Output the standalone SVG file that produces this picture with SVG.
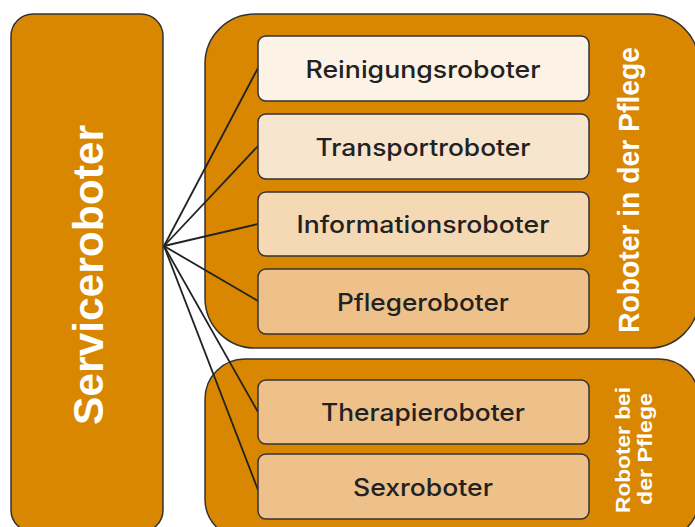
<svg xmlns="http://www.w3.org/2000/svg" width="695" height="527" viewBox="0 0 695 527">
<style>
.grp{fill:#D98700;stroke:#333;stroke-width:1.5}
.box{stroke:#333;stroke-width:1.5}
.lbl{font-family:Inter,"Liberation Sans",Arial,sans-serif;font-weight:500;font-size:24px;fill:#222;text-anchor:middle}
.wt{font-family:"Liberation Sans",Arial,sans-serif;font-weight:bold;fill:#fff;text-anchor:middle}
.conn line{stroke:#222;stroke-width:1.8}
</style>
<rect width="695" height="527" fill="#fff"/>
<g id="servicerobot">
<rect class="grp" x="11" y="14" width="152" height="518" rx="22"/>
<text class="wt" font-size="42" transform="translate(103,275) rotate(-90)" textLength="300" lengthAdjust="spacingAndGlyphs">Serviceroboter</text>
</g>
<g id="group-in-pflege">
<rect class="grp" x="205" y="14" width="494" height="334" rx="50"/>
<text class="wt" font-size="29" transform="translate(639,190) rotate(-90)" textLength="286" lengthAdjust="spacingAndGlyphs">Roboter in der Pflege</text>
</g>
<g id="group-bei-pflege">
<rect class="grp" x="205" y="359" width="494" height="180" rx="40"/>
<text class="wt" font-size="21" transform="translate(630,450) rotate(-90)" textLength="126" lengthAdjust="spacingAndGlyphs">Roboter bei</text>
<text class="wt" font-size="21" transform="translate(652,449) rotate(-90)" textLength="112" lengthAdjust="spacingAndGlyphs">der Pflege</text>
</g>
<g class="conn" id="connectors">
<line x1="164" y1="246" x2="258" y2="68"/>
<line x1="164" y1="246" x2="258" y2="146"/>
<line x1="164" y1="246" x2="258" y2="224"/>
<line x1="164" y1="246" x2="258" y2="301"/>
<line x1="164" y1="246" x2="258" y2="412"/>
<line x1="164" y1="246" x2="258" y2="490"/>
</g>
<g id="reinigung">
<rect class="box" x="258" y="36" width="331" height="65" rx="8" fill="#FCF3E6"/>
<text class="lbl" x="423" y="78" textLength="235" lengthAdjust="spacingAndGlyphs">Reinigungsroboter</text>
</g>
<g id="transport">
<rect class="box" x="258" y="114" width="331" height="65" rx="8" fill="#F8E5CE"/>
<text class="lbl" x="423" y="156" textLength="215" lengthAdjust="spacingAndGlyphs">Transportroboter</text>
</g>
<g id="information">
<rect class="box" x="258" y="192" width="331" height="64" rx="8" fill="#F5D9B5"/>
<text class="lbl" x="423" y="233" textLength="253" lengthAdjust="spacingAndGlyphs">Informationsroboter</text>
</g>
<g id="pflege">
<rect class="box" x="258" y="269" width="331" height="65" rx="8" fill="#EFC18A"/>
<text class="lbl" x="423" y="311" textLength="172" lengthAdjust="spacingAndGlyphs">Pflegeroboter</text>
</g>
<g id="therapie">
<rect class="box" x="258" y="380" width="331" height="64" rx="8" fill="#EFC18A"/>
<text class="lbl" x="423" y="421" textLength="204" lengthAdjust="spacingAndGlyphs">Therapieroboter</text>
</g>
<g id="sex">
<rect class="box" x="258" y="454" width="331" height="65" rx="8" fill="#EFC18A"/>
<text class="lbl" x="423" y="496" textLength="140" lengthAdjust="spacingAndGlyphs">Sexroboter</text>
</g>
</svg>
